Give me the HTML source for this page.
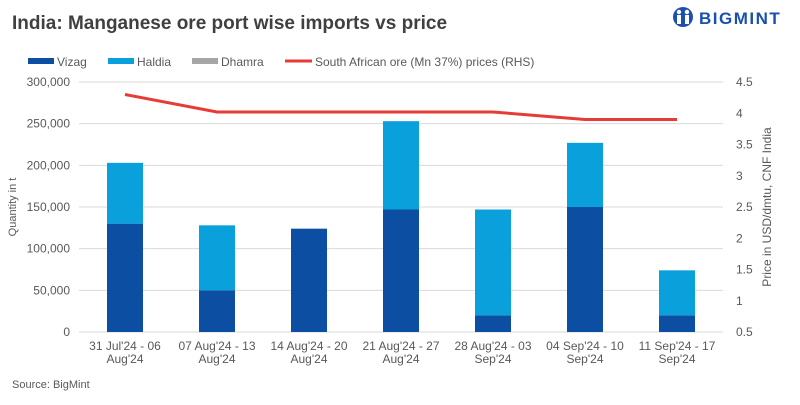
<!DOCTYPE html>
<html><head><meta charset="utf-8"><style>
body{margin:0;background:#fff;font-family:"Liberation Sans",sans-serif;}
svg text{font-family:"Liberation Sans",sans-serif;}
</style></head><body>
<svg id="c" width="800" height="400" xmlns="http://www.w3.org/2000/svg">
<text x="12" y="29" font-size="19" font-weight="bold" fill="#404040">India: Manganese ore port wise imports vs price</text>
<g>
<circle cx="683" cy="17" r="10" fill="#1b4fb0"/>
<circle cx="679" cy="12" r="2.2" fill="#fff"/><circle cx="687" cy="12" r="2.2" fill="#fff"/>
<rect x="677" y="15" width="4" height="9" fill="#fff"/><rect x="685" y="15" width="4" height="9" fill="#fff"/>
<text x="699" y="24" font-size="17" font-weight="bold" fill="#1b4fb0" letter-spacing="1.5">BIGMINT</text>
</g>
<g font-size="12" fill="#595959">
<rect x="28" y="58" width="26" height="6" fill="#0b4ea2"/><text x="57" y="66">Vizag</text>
<rect x="108" y="58" width="26" height="6" fill="#0aa0dc"/><text x="137" y="66">Haldia</text>
<rect x="192" y="58" width="26" height="6" fill="#a6a6a6"/><text x="221" y="66">Dhamra</text>
<line x1="285" y1="61" x2="312" y2="61" stroke="#e83a36" stroke-width="3"/><text x="315" y="66">South African ore (Mn 37%) prices (RHS)</text>
</g>
<g id="grid"></g><g id="bars"></g><g id="line"></g><g id="axes" font-size="12" fill="#595959"></g>
<text transform="translate(16,207) rotate(-90)" text-anchor="middle" font-size="11" fill="#595959">Quantity in t</text>
<text transform="translate(771,207) rotate(-90)" text-anchor="middle" font-size="12" fill="#595959">Price in USD/dmtu, CNF India</text>
<text x="12" y="388" font-size="11" fill="#595959">Source: BigMint</text>
</svg>
<script>
const categories=[["31 Jul'24 - 06","Aug'24"],["07 Aug'24 - 13","Aug'24"],["14 Aug'24 - 20","Aug'24"],["21 Aug'24 - 27","Aug'24"],["28 Aug'24 - 03","Sep'24"],["04 Sep'24 - 10","Sep'24"],["11 Sep'24 - 17","Sep'24"]];
const vizag=[130000,50000,124000,147000,20000,150000,20000];
const haldia=[73000,78000,0,106000,127000,77000,54000];
const dhamra=[0,0,0,0,0,0,0];
const price=[4.3,4.02,4.02,4.02,4.02,3.9,3.9];
const leftTicks=[0,50000,100000,150000,200000,250000,300000];
const rightTicks=[0.5,1,1.5,2,2.5,3,3.5,4,4.5];
const NS="http://www.w3.org/2000/svg";
const X0=79,X1=723,Y0=332,Y1=82;
const step=(X1-X0)/categories.length;
const xc=i=>X0+step*(i+0.5);
const yL=v=>Y0-(v/300000)*(Y0-Y1);
const yR=v=>Y0-((v-0.5)/4)*(Y0-Y1);
function mk(t,a,p){const e=document.createElementNS(NS,t);for(const k in a)e.setAttribute(k,a[k]);p.appendChild(e);return e;}
const grid=document.getElementById('grid'),bars=document.getElementById('bars'),line=document.getElementById('line'),axes=document.getElementById('axes');
leftTicks.forEach(v=>{
 const g=mk('line',{x1:X0,x2:X1,y1:yL(v),y2:yL(v),stroke:'#d9d9d9'},grid);
 
 
 const t=mk('text',{x:70,y:yL(v)+4,'text-anchor':'end'},axes);t.textContent=v.toLocaleString('en-US');
 
 
});
rightTicks.forEach(v=>{
 const t=mk('text',{x:736,y:yR(v)+4},axes);t.textContent=String(v);
 
 
});
const bw=36;
categories.forEach((c,i)=>{
 const x=xc(i)-bw/2;
 const r1=mk('rect',{x:x,y:yL(vizag[i]),width:bw,height:Y0-yL(vizag[i]),fill:'#0b4ea2'},bars);
 
 
 const top=vizag[i]+haldia[i];
 const r2=mk('rect',{x:x,y:yL(top),width:bw,height:yL(vizag[i])-yL(top),fill:'#0aa0dc'},bars);
 
 
 const t3=top+dhamra[i];
 const r3=mk('rect',{x:x,y:yL(t3),width:bw,height:yL(top)-yL(t3),fill:'#a6a6a6'},bars);
 
 
 c.forEach((s,j)=>{const t=mk('text',{x:xc(i),y:350+j*13,'text-anchor':'middle'},axes);t.textContent=s;
  
  });
});
const pl=mk('polyline',{points:price.map((v,i)=>xc(i)+','+yR(v)).join(' '),fill:'none',stroke:'#e83a36','stroke-width':3},line);


</script>
</body></html>
